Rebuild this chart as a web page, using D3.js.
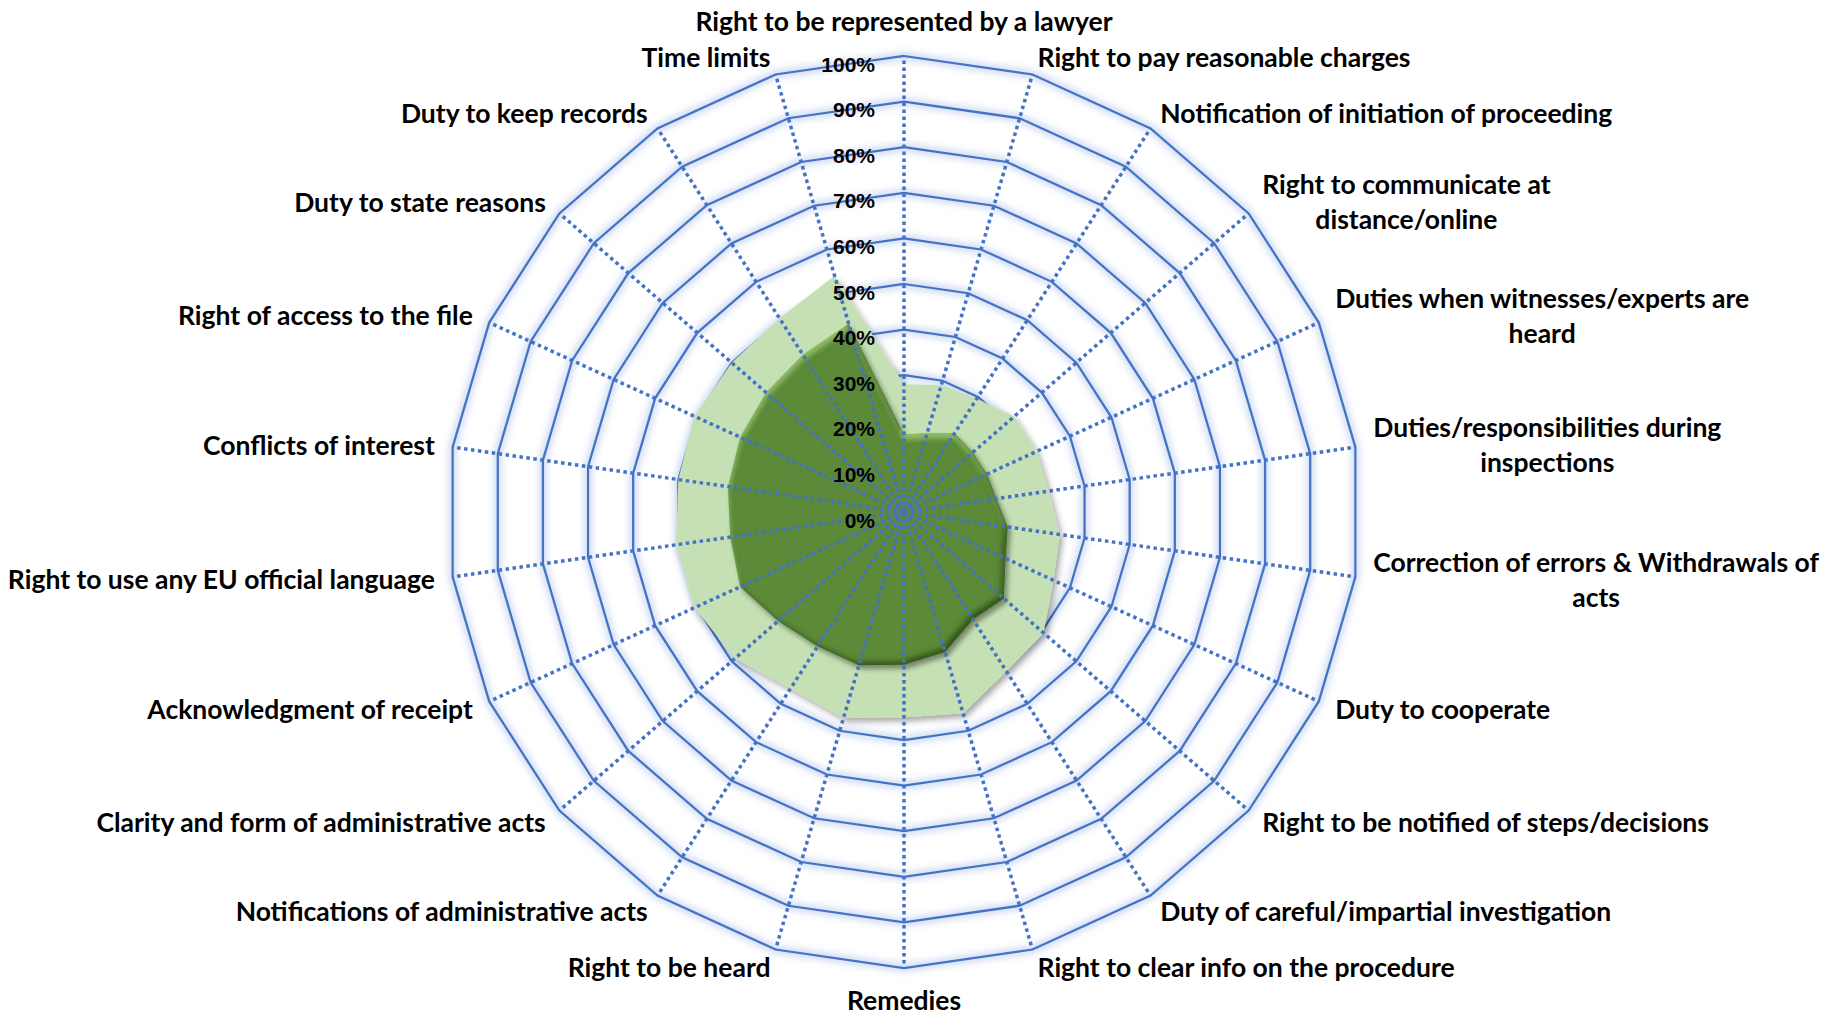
<!DOCTYPE html>
<html>
<head>
<meta charset="utf-8">
<script src="https://cdn.jsdelivr.net/npm/d3@7"></script>
<style>
  html, body { margin: 0; padding: 0; background: #fff; }
  svg { display: block; }
</style>
</head>
<body>
<div id="chart"></div>
<script>
// categories clockwise from the top
const categories = [
  "Right to be represented by a lawyer",
  "Right to pay reasonable charges",
  "Notification of initiation of proceeding",
  "Right to communicate at\ndistance/online",
  "Duties when witnesses/experts are\nheard",
  "Duties/responsibilities during\ninspections",
  "Correction of errors & Withdrawals of\nacts",
  "Duty to cooperate",
  "Right to be notified of steps/decisions",
  "Duty of careful/impartial investigation",
  "Right to clear info on the procedure",
  "Remedies",
  "Right to be heard",
  "Notifications of administrative acts",
  "Clarity and form of administrative acts",
  "Acknowledgment of receipt",
  "Right to use any EU official language",
  "Conflicts of interest",
  "Right of access to the file",
  "Duty to state reasons",
  "Duty to keep records",
  "Time limits"
];

// light green series (outer)
const outerValues = [0.28, 0.29, 0.295, 0.32, 0.32, 0.32, 0.345, 0.36, 0.405, 0.415, 0.46,
                     0.45, 0.47, 0.46, 0.49, 0.505, 0.505, 0.50, 0.505, 0.50, 0.505, 0.54];
// dark green series (inner)
const innerValues = [0.17, 0.18, 0.205, 0.20, 0.20, 0.205, 0.23, 0.245, 0.29, 0.28, 0.32,
                     0.335, 0.35, 0.35, 0.365, 0.395, 0.385, 0.39, 0.395, 0.40, 0.41, 0.43];

const tickValues = [0, 0.1, 0.2, 0.3, 0.4, 0.5, 0.6, 0.7, 0.8, 0.9, 1.0];
const tickLabels = ["0%", "10%", "20%", "30%", "40%", "50%", "60%", "70%", "80%", "90%", "100%"];

const width = 1831, height = 1016;
const cx = 904, cy = 512, R = 456;
const blue = "#4472c4";

const svg = d3.select("#chart").append("svg")
    .attr("width", width)
    .attr("height", height);

const defs = svg.append("defs");

// soft glow behind the ring lines
defs.append("filter").attr("id", "glow")
    .attr("x", "-10%").attr("y", "-10%").attr("width", "120%").attr("height", "120%")
  .append("feGaussianBlur").attr("stdDeviation", 3.5);

// light series: plain drop shadow
const lf = defs.append("filter").attr("id", "lightFx")
    .attr("x", "-20%").attr("y", "-20%").attr("width", "140%").attr("height", "140%");
lf.append("feDropShadow").attr("dx", 3).attr("dy", 4).attr("stdDeviation", 3)
    .attr("flood-color", "#000").attr("flood-opacity", 0.35);

// dark series: bevel-ish edges plus drop shadow
const df = defs.append("filter").attr("id", "darkFx")
    .attr("x", "-20%").attr("y", "-20%").attr("width", "140%").attr("height", "140%");
df.append("feGaussianBlur").attr("in", "SourceAlpha").attr("stdDeviation", 2.5).attr("result", "b");
df.append("feOffset").attr("in", "b").attr("dx", 3).attr("dy", 4).attr("result", "ds");
df.append("feFlood").attr("flood-color", "#000").attr("flood-opacity", 0.4).attr("result", "dsc");
df.append("feComposite").attr("in", "dsc").attr("in2", "ds").attr("operator", "in").attr("result", "shadow");
df.append("feOffset").attr("in", "b").attr("dx", -4).attr("dy", -4).attr("result", "o1");
df.append("feComposite").attr("in", "SourceAlpha").attr("in2", "o1").attr("operator", "out").attr("result", "e1");
df.append("feFlood").attr("flood-color", "#2c4a16").attr("flood-opacity", 0.85).attr("result", "c1");
df.append("feComposite").attr("in", "c1").attr("in2", "e1").attr("operator", "in").attr("result", "darkEdge");
df.append("feOffset").attr("in", "b").attr("dx", 0).attr("dy", 5).attr("result", "o2");
df.append("feComposite").attr("in", "SourceAlpha").attr("in2", "o2").attr("operator", "out").attr("result", "e2");
df.append("feFlood").attr("flood-color", "#9ccc72").attr("flood-opacity", 0.75).attr("result", "c2");
df.append("feComposite").attr("in", "c2").attr("in2", "e2").attr("operator", "in").attr("result", "lightEdge");
const dm = df.append("feMerge");
["shadow", "SourceGraphic", "lightEdge", "darkEdge"].forEach(n => dm.append("feMergeNode").attr("in", n));

const n = categories.length;
const angle = i => i * 2 * Math.PI / n;
const r = d3.scaleLinear().domain([0, 1]).range([0, R]);

const radial = d3.lineRadial()
    .angle((d, i) => angle(i))
    .radius(d => r(d))
    .curve(d3.curveLinearClosed);

const g = svg.append("g").attr("transform", `translate(${cx},${cy})`);

// ring gridlines
const rings = tickValues.filter(v => v > 0);
g.append("g").attr("filter", "url(#glow)")
  .selectAll("path")
  .data(rings)
  .enter().append("path")
    .attr("d", v => radial(categories.map(() => v)))
    .style("fill", "none")
    .style("stroke", "#b9cbec")
    .style("stroke-width", 8)
    .style("opacity", 0.7);

g.append("g")
  .selectAll("path")
  .data(rings)
  .enter().append("path")
    .attr("d", v => radial(categories.map(() => v)))
    .style("fill", "none")
    .style("stroke", blue)
    .style("stroke-width", 2.25);

// series
g.append("path")
    .attr("d", radial(outerValues))
    .attr("filter", "url(#lightFx)")
    .style("fill", "#c5e0b4");

g.append("path")
    .attr("d", radial(innerValues))
    .attr("filter", "url(#darkFx)")
    .style("fill", "#5b8a38");

// dotted spokes
g.append("g")
  .selectAll("line")
  .data(categories)
  .enter().append("line")
    .attr("x1", 0).attr("y1", 0)
    .attr("x2", (d, i) => r(1) * Math.sin(angle(i)))
    .attr("y2", (d, i) => -r(1) * Math.cos(angle(i)))
    .style("stroke", blue)
    .style("stroke-width", 3.5)
    .style("stroke-dasharray", "3.5 3.5");

// value axis labels
g.append("g")
  .selectAll("text")
  .data(tickValues)
  .enter().append("text")
    .attr("x", -29)
    .attr("y", v => -r(v) + 8)
    .attr("text-anchor", "end")
    .attr("dominant-baseline", "central")
    .style("font-family", "'Liberation Sans', Arial, sans-serif")
    .style("font-weight", "bold")
    .style("font-size", "21px")
    .style("fill", "#000")
    .text((v, i) => tickLabels[i]);

// category labels
const labelGap = 18, lineH = 35;
const labels = g.append("g")
    .style("font-family", "Lato, 'Open Sans', sans-serif")
    .style("font-weight", "bold")
    .style("font-size", "26.5px")
    .style("fill", "#000");

categories.forEach((name, i) => {
  const a = angle(i);
  const s = Math.sin(a), c = Math.cos(a);
  const px = s * (R + labelGap), py = -c * (R + labelGap);
  const lines = name.split("\n");
  const t = labels.append("text").attr("text-anchor", "middle");
  const spans = lines.map(l => t.append("tspan").attr("dominant-baseline", "central").text(l));
  const w = d3.max(spans, sp => sp.node().getComputedTextLength());
  let x, y0;
  if (Math.abs(s) < 0.05) {
    x = px;
    const h = lines.length * lineH;
    y0 = c > 0 ? py - h + lineH / 2 : py + lineH / 2 - 4;
  } else {
    x = s > 0 ? px + w / 2 : px - w / 2;
    y0 = py - (lines.length - 1) * lineH / 2;
  }
  spans.forEach((sp, k) => sp.attr("x", x).attr("y", y0 + k * lineH));
});
</script>
</body>
</html>
